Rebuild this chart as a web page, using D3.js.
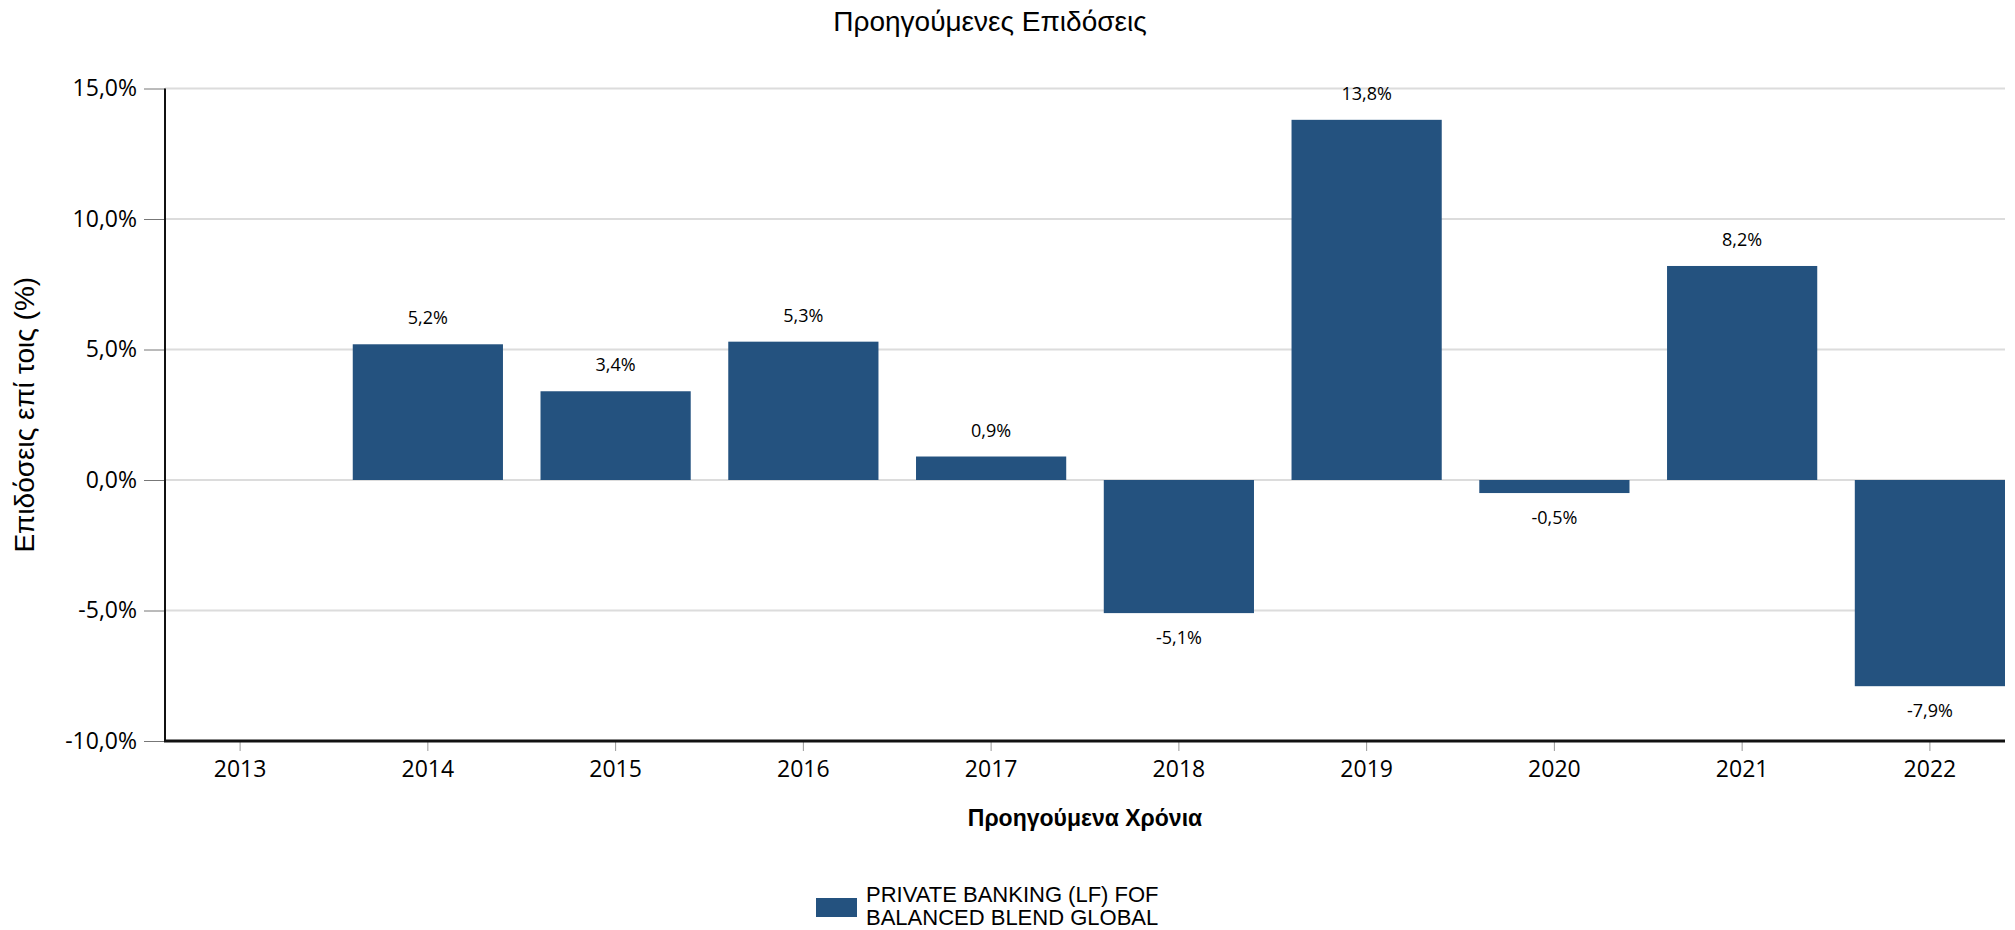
<!DOCTYPE html>
<html>
<head>
<meta charset="utf-8">
<script src="https://cdn.jsdelivr.net/npm/d3@7"></script>
<style>
  body { margin: 0; background: #fff; }
  svg { display: block; }
</style>
</head>
<body>
<div id="chart"></div>
<script>
// years and yearly returns (%), 2013 has no value
const years = ["2013", "2014", "2015", "2016", "2017", "2018", "2019", "2020", "2021", "2022"];
const returns = [null, 5.2, 3.4, 5.3, 0.9, -5.1, 13.8, -0.5, 8.2, -7.9];
const yTicks = [-10, -5, 0, 5, 10, 15];
const seriesName = ["PRIVATE BANKING (LF) FOF", "BALANCED BLEND GLOBAL"];

const width = 2015;
const height = 930;
const margin = { top: 88.5, right: 10, bottom: 189, left: 165 };
const barColor = "#24527f";

// greek style numbers: comma decimal, plain hyphen minus
const locale = d3.formatLocale({ decimal: ",", thousands: ".", grouping: [3], currency: ["", "€"], minus: "-" });
const fmt = (d) => locale.format(".1f")(d) + "%";

const svg = d3.select("#chart")
  .append("svg")
  .attr("width", width)
  .attr("height", height);

const x = d3.scaleBand()
  .domain(years)
  .range([margin.left, width - margin.right])
  .paddingInner(0.2)
  .paddingOuter(0);

const y = d3.scaleLinear()
  .domain([-10, 15])
  .range([height - margin.bottom, margin.top]);

// gridlines
svg.append("g")
  .selectAll("line")
  .data(yTicks)
  .join("line")
  .attr("x1", margin.left)
  .attr("x2", width - margin.right)
  .attr("y1", (d) => y(d))
  .attr("y2", (d) => y(d))
  .attr("stroke", "#dcdcdc")
  .attr("stroke-width", 2);

// y axis
const yAxis = svg.append("g")
  .attr("transform", `translate(${margin.left},0)`)
  .call(d3.axisLeft(y).tickValues(yTicks).tickFormat(fmt).tickSize(21).tickPadding(7));
yAxis.select(".domain").remove();
yAxis.selectAll(".tick line").attr("stroke", "#777");
yAxis.selectAll(".tick text")
  .attr("fill", "#000")
  .style("font-family", "'Open Sans', sans-serif")
  .style("font-size", "23px");

// bars
const data = years.map((yr, i) => ({ year: yr, value: returns[i] })).filter((d) => d.value !== null);

svg.append("g")
  .selectAll("rect")
  .data(data)
  .join("rect")
  .attr("x", (d) => x(d.year))
  .attr("width", x.bandwidth())
  .attr("y", (d) => y(Math.max(0, d.value)))
  .attr("height", (d) => Math.abs(y(d.value) - y(0)))
  .attr("fill", barColor);

// value labels
svg.append("g")
  .selectAll("text")
  .data(data)
  .join("text")
  .attr("x", (d) => x(d.year) + x.bandwidth() / 2)
  .attr("y", (d) => d.value >= 0 ? y(d.value) - 20 : y(d.value) + 31)
  .attr("text-anchor", "middle")
  .style("font-family", "'Open Sans', sans-serif")
  .style("font-size", "18px")
  .text((d) => fmt(d.value));

// x axis
const xAxis = svg.append("g")
  .attr("transform", `translate(0,${height - margin.bottom})`)
  .call(d3.axisBottom(x).tickSize(10).tickPadding(10));
xAxis.select(".domain").remove();
xAxis.selectAll(".tick line").attr("stroke", "#999");
xAxis.selectAll(".tick text")
  .attr("fill", "#000")
  .style("font-family", "'Open Sans', sans-serif")
  .style("font-size", "23px");

// axis lines
svg.append("line")
  .attr("x1", margin.left)
  .attr("x2", margin.left)
  .attr("y1", margin.top)
  .attr("y2", height - margin.bottom)
  .attr("stroke", "#111")
  .attr("stroke-width", 2);
svg.append("line")
  .attr("x1", margin.left - 1)
  .attr("x2", width - margin.right)
  .attr("y1", height - margin.bottom)
  .attr("y2", height - margin.bottom)
  .attr("stroke", "#111")
  .attr("stroke-width", 3);

// title
svg.append("text")
  .attr("x", 990)
  .attr("y", 31)
  .attr("text-anchor", "middle")
  .style("font-family", "'Liberation Sans', Arial, sans-serif")
  .style("font-size", "28px")
  .text("Προηγούμενες Επιδόσεις");

// x axis title
svg.append("text")
  .attr("x", (margin.left + width - margin.right) / 2)
  .attr("y", 826)
  .attr("text-anchor", "middle")
  .style("font-family", "'Liberation Sans', Arial, sans-serif")
  .style("font-size", "23px")
  .style("font-weight", "bold")
  .text("Προηγούμενα Χρόνια");

// y axis title
svg.append("text")
  .attr("transform", `translate(34,${(margin.top + height - margin.bottom) / 2}) rotate(-90)`)
  .attr("text-anchor", "middle")
  .style("font-family", "'Liberation Sans', Arial, sans-serif")
  .style("font-size", "28px")
  .text("Επιδόσεις επί τοις (%)");

// legend
const legend = svg.append("g").attr("transform", "translate(816,898)");
legend.append("rect")
  .attr("width", 41)
  .attr("height", 19)
  .attr("fill", barColor);
legend.append("text")
  .attr("x", 50)
  .attr("y", 4)
  .style("font-family", "'Liberation Sans', Arial, sans-serif")
  .style("font-size", "22px")
  .selectAll("tspan")
  .data(seriesName)
  .join("tspan")
  .attr("x", 50)
  .attr("dy", (d, i) => i === 0 ? 0 : 23)
  .text((d) => d);
</script>
</body>
</html>
